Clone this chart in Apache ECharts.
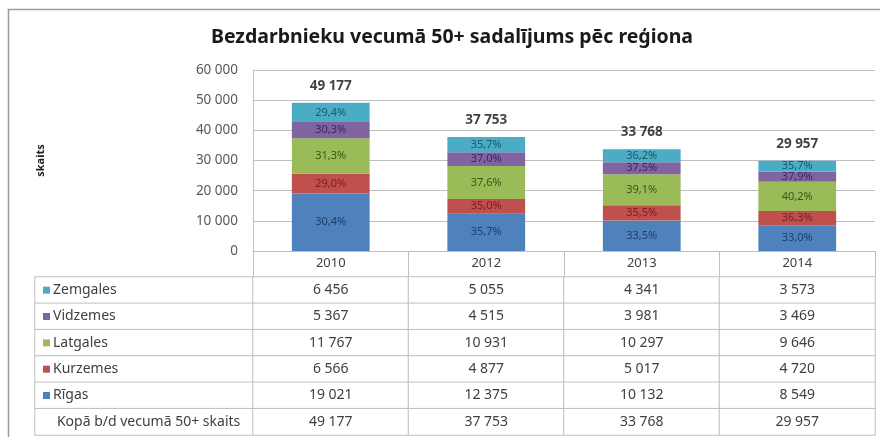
<!DOCTYPE html>
<html>
<head>
<meta charset="utf-8">
<script src="https://cdn.jsdelivr.net/npm/echarts@6/dist/echarts.min.js"></script>
<style>html,body{margin:0;padding:0;background:#fff}#c{width:880px;height:437px}</style>
</head>
<body>
<div id="c"></div>
<script>
const years = ['2010', '2012', '2013', '2014'];
const rigas = [19021, 12375, 10132, 8549];
const kurzemes = [6566, 4877, 5017, 4720];
const latgales = [11767, 10931, 10297, 9646];
const vidzemes = [5367, 4515, 3981, 3469];
const zemgales = [6456, 5055, 4341, 3573];
const totals = [49177, 37753, 33768, 29957];
const rigasPct = [30.4, 35.7, 33.5, 33.0];
const kurzemesPct = [29.0, 35.0, 35.5, 36.3];
const latgalesPct = [31.3, 37.6, 39.1, 40.2];
const vidzemesPct = [30.3, 37.0, 37.5, 37.9];
const zemgalesPct = [29.4, 35.7, 36.2, 35.7];
const yMin = 0, yMax = 60000, yStep = 10000;
const tableRowNames = ['Zemgales', 'Vidzemes', 'Latgales', 'Kurzemes', 'Rīgas', 'Kopā b/d vecumā 50+ skaits'];
const titleText = 'Bezdarbnieku vecumā 50+ sadalījums pēc reģiona';
const yName = 'skaits';

const colors = {Rīgas: '#4F81BD', Kurzemes: '#C0504D', Latgales: '#9BBB59', Vidzemes: '#8064A2', Zemgales: '#4BACC6'};
const labelColors = {Rīgas: '#1E3E6E', Kurzemes: '#7A1C1A', Latgales: '#3C5418', Vidzemes: '#3A2560', Zemgales: '#1B5868'};

function fmt(n) { return String(n).replace(/\B(?=(\d{3})+(?!\d))/g, '\u00a0'); }
function pct(v) { return v.toFixed(1).replace('.', ',') + '%'; }

const stackDefs = [
  ['Rīgas', rigas, rigasPct],
  ['Kurzemes', kurzemes, kurzemesPct],
  ['Latgales', latgales, latgalesPct],
  ['Vidzemes', vidzemes, vidzemesPct],
  ['Zemgales', zemgales, zemgalesPct]
];
const rowValues = [zemgales, vidzemes, latgales, kurzemes, rigas, totals];
const rowKeys = ['Zemgales', 'Vidzemes', 'Latgales', 'Kurzemes', 'Rīgas', null];

const font = '"Noto Sans", "Open Sans", sans-serif';
const gridColor = '#BFBFBF';

const series = stackDefs.map(([name, vals, pcts]) => ({
  type: 'bar', name, stack: 'total', xAxisIndex: 0, yAxisIndex: 0,
  barWidth: '50%',
  data: vals,
  itemStyle: {color: colors[name]},
  label: {
    show: true, position: 'inside', fontFamily: font, fontSize: 11,
    color: labelColors[name],
    formatter: p => pct(pcts[p.dataIndex])
  }
}));

series.push({
  type: 'scatter', xAxisIndex: 0, yAxisIndex: 0,
  data: totals, symbolSize: 1, itemStyle: {color: 'rgba(0,0,0,0)'},
  label: {show: true, position: 'top', distance: 9, fontFamily: font, fontSize: 13.5, fontWeight: 'bold', color: '#111',
    formatter: p => fmt(p.value)}
});

// row header cells
series.push({
  type: 'heatmap', xAxisIndex: 1, yAxisIndex: 1,
  data: tableRowNames.map((_, i) => [0, i, 0]),
  itemStyle: {color: '#ffffff', borderColor: gridColor, borderWidth: 1},
  label: {show: false},
  emphasis: {disabled: true}
});

// value cells
const cellData = [];
rowValues.forEach((arr, r) => arr.forEach((v, c) => cellData.push([c, r, v])));
series.push({
  type: 'heatmap', xAxisIndex: 2, yAxisIndex: 2,
  data: cellData,
  itemStyle: {color: '#ffffff', borderColor: gridColor, borderWidth: 1},
  label: {show: true, fontFamily: font, fontSize: 14, color: '#404040', formatter: p => fmt(p.value[2])},
  emphasis: {disabled: true}
});

const rich = {};
Object.keys(colors).forEach((k, i) => { rich['k' + i] = {width: 7, height: 7, backgroundColor: colors[k]}; });
rich.t = {fontFamily: font, fontSize: 14, color: '#404040', padding: [0, 0, 0, 3]};
const keyIndex = Object.keys(colors);

const option = {
  backgroundColor: '#ffffff',
  animation: false,
  title: {
    text: titleText, left: 452, top: 27, padding: 0, textAlign: 'center',
    textStyle: {fontFamily: font, fontSize: 19.5, fontWeight: 'bold', color: '#1a1a1a'}
  },
  graphic: [{
    type: 'rect', z: -100, silent: true,
    shape: {x: 8.5, y: 9.5, width: 900, height: 500},
    style: {fill: '#ffffff', stroke: '#9a9a9a', lineWidth: 1.5}
  }],
  grid: [
    {left: 253, right: 5, top: 70, height: 181},
    {left: 35, width: 218, top: 277, height: 158},
    {left: 253, right: 5, top: 277, height: 158}
  ],
  xAxis: [
    {gridIndex: 0, type: 'category', data: years,
      axisLine: {show: true, lineStyle: {color: gridColor}},
      axisTick: {show: true, length: 26, lineStyle: {color: gridColor}},
      axisLabel: {fontFamily: font, fontSize: 13, color: '#404040', margin: 6}},
    {gridIndex: 1, type: 'category', data: [''], show: false},
    {gridIndex: 2, type: 'category', data: years, show: false}
  ],
  yAxis: [
    {gridIndex: 0, type: 'value', min: yMin, max: yMax, interval: yStep,
      name: yName, nameLocation: 'middle', nameGap: 207, nameRotate: 90,
      nameTextStyle: {fontFamily: font, fontSize: 11, fontWeight: 'bold', color: '#222'},
      axisLine: {show: true, lineStyle: {color: gridColor}},
      axisTick: {show: false},
      splitLine: {lineStyle: {color: gridColor}},
      axisLabel: {fontFamily: font, fontSize: 13.5, color: '#595959', margin: 15, formatter: v => fmt(v)}},
    {gridIndex: 1, type: 'category', data: tableRowNames, inverse: true, z: 10,
      axisLine: {show: false}, axisTick: {show: false},
      axisLabel: {inside: true, margin: 8, rich,
        formatter: (v, i) => rowKeys[i] ? '{k' + keyIndex.indexOf(rowKeys[i]) + '|}{t|' + v + '}' : '{t|   ' + v + '}'}},
    {gridIndex: 2, type: 'category', data: tableRowNames, inverse: true, show: false}
  ],
  series
};

const chart = echarts.init(document.getElementById('c'), null, {renderer: 'canvas'});
chart.setOption(option);
</script>
</body>
</html>
